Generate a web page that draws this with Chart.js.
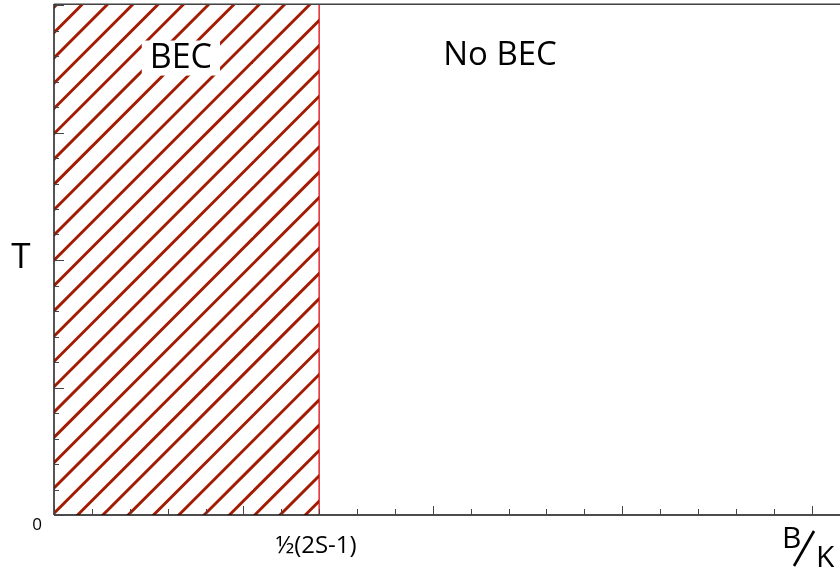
<!DOCTYPE html>
<html>
<head>
<meta charset="utf-8">
<script src="https://cdn.jsdelivr.net/npm/chart.js@4/dist/chart.umd.min.js"></script>
<style>
  html, body { margin: 0; padding: 0; background: #ffffff; }
  #wrap { width: 840px; height: 570px; position: relative; }
</style>
</head>
<body>
<div id="wrap"><canvas id="c" width="840" height="570"></canvas></div>
<script>
// Phase diagram: condensed (BEC) region below the critical field, no condensate above it
const criticalField = 1.4;            // ½(2S-1) in units of K
const hatchX = [0, criticalField];    // x extent of the BEC region
const hatchT = [4, 4];                // upper T of the BEC region
const xRange = [0, 4.15];
const yRange = [0, 4];
const xMajorTicks = [0, 1, 2, 3, 4];
const yMajorTicks = [0, 1, 2, 3, 4];
const minorStep = 0.2;
const xTickLabels = ['½(2S-1)'];
const originLabel = '0';
const regionLabels = ['BEC', 'No BEC'];
const regionLabelX = [0.67, 2.355];
const regionLabelT = [3.58, 3.6];

const FONT = '"Open Sans", "Noto Sans", sans-serif';

// Diagonal hatch pattern, lines rising to the right
function makeHatch() {
  const size = 253, gap = 25.3, off = 10.7;
  const cv = document.createElement('canvas');
  cv.width = size; cv.height = size;
  const g = cv.getContext('2d');
  g.strokeStyle = '#a21b02';
  g.lineWidth = 2.9;
  for (let c = off - 2 * gap; c < 2 * size + 2 * gap; c += gap) {
    g.beginPath();
    g.moveTo(c + 5, -5);
    g.lineTo(-5, c + 5);
    g.stroke();
  }
  return g.createPattern(cv, 'repeat');
}

const hatchData = hatchX.map((x, i) => ({ x, y: hatchT[i] }));
const boundaryData = [{ x: criticalField, y: yRange[0] }, { x: criticalField, y: yRange[1] }];

function ticksBetween(lo, hi, step) {
  const out = [];
  const n = Math.floor((hi - lo) / step + 1e-6);
  for (let i = 0; i <= n; i++) out.push(+(lo + i * step).toFixed(6));
  return out;
}

const frame = {
  id: 'frame',
  afterDatasetsDraw(chart) {
    const { ctx, chartArea: a, scales: { x, y } } = chart;
    ctx.save();

    // region labels
    regionLabels.forEach((txt, i) => {
      const px = x.getPixelForValue(regionLabelX[i]);
      const py = y.getPixelForValue(regionLabelT[i]);
      const size = i === 0 ? 34 : 33;
      ctx.font = size + 'px ' + FONT;
      ctx.textAlign = 'center';
      ctx.textBaseline = 'middle';
      if (i === 0) {
        const w = ctx.measureText(txt).width;
        ctx.fillStyle = '#ffffff';
        ctx.fillRect(px - w / 2 - 8, py - 18, w + 16, 35);
      }
      ctx.fillStyle = '#000000';
      ctx.fillText(txt, px, py);
    });

    // top frame line
    ctx.lineWidth = 1;
    ctx.strokeStyle = '#9a9a9a';
    ctx.beginPath(); ctx.moveTo(a.left, a.top - 1.5); ctx.lineTo(a.right, a.top - 1.5); ctx.stroke();
    ctx.strokeStyle = '#444444';
    ctx.beginPath(); ctx.moveTo(a.left, a.top - 0.5); ctx.lineTo(a.right, a.top - 0.5); ctx.stroke();

    // axis lines
    ctx.strokeStyle = '#2a2a2a';
    ctx.lineWidth = 1.6;
    ctx.beginPath(); ctx.moveTo(a.left, a.top - 1); ctx.lineTo(a.left, a.bottom); ctx.stroke();
    ctx.strokeStyle = '#111111';
    ctx.beginPath(); ctx.moveTo(a.left, a.bottom); ctx.lineTo(a.right, a.bottom); ctx.stroke();

    // inward tick marks
    ctx.lineWidth = 1;
    ctx.strokeStyle = '#444444';
    ticksBetween(xRange[0], xRange[1], minorStep).forEach(v => {
      const px = Math.round(x.getPixelForValue(v)) + 0.5;
      const len = xMajorTicks.some(m => Math.abs(m - v) < 1e-6) ? 9 : 6;
      ctx.beginPath(); ctx.moveTo(px, a.bottom); ctx.lineTo(px, a.bottom - len); ctx.stroke();
    });
    ticksBetween(yRange[0], yRange[1], minorStep).forEach(v => {
      const py = Math.round(y.getPixelForValue(v)) + 0.5;
      const len = yMajorTicks.some(m => Math.abs(m - v) < 1e-6) ? 10 : 5;
      ctx.beginPath(); ctx.moveTo(a.left, py); ctx.lineTo(a.left + len, py); ctx.stroke();
    });

    // tick labels
    ctx.fillStyle = '#000000';
    ctx.textAlign = 'center';
    ctx.textBaseline = 'alphabetic';
    ctx.font = '17px ' + FONT;
    ctx.fillText(originLabel, a.left - 17, a.bottom + 15);
    ctx.font = '24px ' + FONT;
    ctx.fillText(xTickLabels[0], x.getPixelForValue(criticalField) - 3, a.bottom + 38);

    // axis titles
    ctx.font = '35px ' + FONT;
    ctx.fillText('T', 21, y.getPixelForValue(2) + 8);
    ctx.font = '30px ' + FONT;
    ctx.textAlign = 'left';
    ctx.fillText('B', a.right - 58, a.bottom + 33);
    ctx.fillText('K', a.right - 24, a.bottom + 52);
    ctx.strokeStyle = '#000000';
    ctx.lineWidth = 2.6;
    ctx.beginPath();
    ctx.moveTo(a.right - 46, a.bottom + 51);
    ctx.lineTo(a.right - 26, a.bottom + 16);
    ctx.stroke();

    ctx.restore();
  }
};

new Chart(document.getElementById('c'), {
  type: 'scatter',
  data: {
    datasets: [
      {
        data: hatchData,
        showLine: true,
        borderWidth: 0,
        pointRadius: 0,
        backgroundColor: makeHatch(),
        fill: 'origin'
      },
      {
        data: boundaryData,
        showLine: true,
        borderColor: '#e5262e',
        borderWidth: 1.5,
        pointRadius: 0,
        fill: false
      }
    ]
  },
  options: {
    responsive: false,
    animation: false,
    events: [],
    layout: { padding: { left: 54, top: 5, right: 0, bottom: 55 } },
    plugins: { legend: { display: false }, tooltip: { enabled: false } },
    scales: {
      x: { type: 'linear', min: xRange[0], max: xRange[1], display: false },
      y: { type: 'linear', min: yRange[0], max: yRange[1], display: false }
    }
  },
  plugins: [frame]
});
</script>
</body>
</html>
